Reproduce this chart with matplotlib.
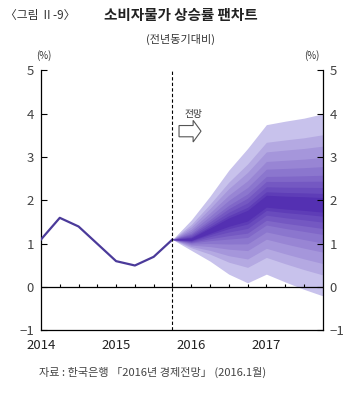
import numpy as np
import matplotlib
matplotlib.use('Agg')
import matplotlib.pyplot as plt
from matplotlib.patches import FancyArrow

plt.rcParams['font.family'] = ['Noto Sans CJK KR', 'DejaVu Sans']

# quarterly index: 0 = 2014 Q1 ... 15 = 2017 Q4
hist_q = [0, 1, 2, 3, 4, 5, 6, 7]
hist_cpi = [1.1, 1.6, 1.4, 1.0, 0.6, 0.5, 0.7, 1.1]

fan_q = [7, 8, 9, 10, 11, 12, 13, 14, 15]
fan_center = [1.1, 1.1, 1.3, 1.5, 1.65, 1.98, 1.95, 1.93, 1.9]
fan_upper = [1.1, 1.55, 2.1, 2.7, 3.2, 3.75, 3.83, 3.9, 4.0]
fan_lower = [1.1, 0.85, 0.6, 0.3, 0.1, 0.3, 0.12, -0.05, -0.2]

year_labels = ['2014', '2015', '2016', '2017']
year_pos = [0, 4, 8, 12]

# band edges as share of the outer interval, outermost first
band_frac = [1.0, 0.77, 0.645, 0.52, 0.42, 0.325, 0.26, 0.19, 0.125, 0.08]
light = np.array([200, 194, 236]) / 255
dark = np.array([84, 48, 178]) / 255

fig = plt.figure(figsize=(3.54, 4.13), dpi=100)
ax = fig.add_axes([0.1158, 0.1998, 0.7958, 0.6295])

c = np.array(fan_center)
up = np.array(fan_upper)
lo = np.array(fan_lower)
n = len(band_frac)
for i, f in enumerate(band_frac):
    t = (i / (n - 1)) ** 0.8
    col = light * (1 - t) + dark * t
    ax.fill_between(fan_q, c - f * (c - lo), c + f * (up - c), color=col, lw=0, zorder=1)

ax.plot(hist_q, hist_cpi, color='#4b3a9a', lw=1.6, zorder=3)

ax.axvline(7, color='black', lw=0.8, ls=(0, (3, 2)), zorder=4)
ax.axhline(0, color='black', lw=0.9, zorder=4)
ax.vlines(range(1, 15), 0, 0.08, color='black', lw=0.8, zorder=4)

ax.set_xlim(0, 15)
ax.set_ylim(-1, 5)
ax.spines['top'].set_visible(False)
for s in ['left', 'right', 'bottom']:
    ax.spines[s].set_linewidth(0.9)

ax.set_yticks(range(-1, 6))
ax.tick_params(axis='y', direction='in', length=4, width=0.8, left=True, right=True,
               labelleft=True, labelright=True, labelsize=9.5, labelcolor='#444444', pad=5)
ax.set_xticks(year_pos)
ax.set_xticklabels(year_labels)
ax.tick_params(axis='x', length=0, labelsize=9.5, labelcolor='#222222', pad=6)

# forecast marker
ax.text(7.65, 4.0, '전망', fontsize=7, color='#333333', ha='left', va='center')
ax.add_patch(FancyArrow(7.35, 3.6, 0.75, 0, width=0.26, head_width=0.5, head_length=0.42,
                        length_includes_head=False, facecolor='white', edgecolor='#555555',
                        lw=0.8, zorder=5))

fig.text(0.125, 0.857, '(%)', fontsize=7, color='#333333', ha='center')
fig.text(0.88, 0.857, '(%)', fontsize=7, color='#333333', ha='center')

fig.text(0.015, 0.963, '〈그림 Ⅱ-9〉', fontsize=8.5, color='#333333', ha='left', va='center')
fig.text(0.51, 0.963, '소비자물가 상승률 팬차트', fontsize=10.5, fontweight='bold',
         color='#222222', ha='center', va='center')
fig.text(0.51, 0.905, '(전년동기대비)', fontsize=8, color='#333333', ha='center', va='center')
fig.text(0.11, 0.098, '자료 : 한국은행 「2016년 경제전망」 (2016.1월)', fontsize=8,
         color='#444444', ha='left', va='center')

fig.savefig('out.png', dpi=100)
